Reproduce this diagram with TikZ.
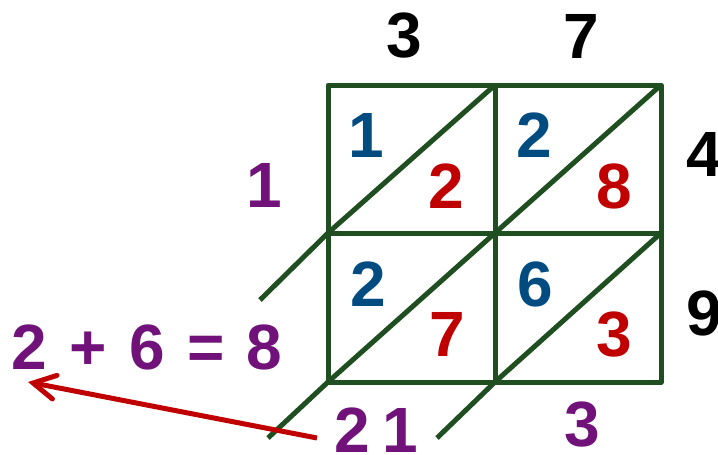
\documentclass[tikz,border=0pt]{standalone}
\usepackage{fontspec}
\setmainfont{Liberation Sans}
\usetikzlibrary{arrows.meta}
\definecolor{grid}{RGB}{31,78,32}
\definecolor{dblue}{RGB}{0,76,128}
\definecolor{dred}{RGB}{192,0,0}
\definecolor{dpurple}{RGB}{112,18,122}
\tikzset{
  gline/.style={draw=grid, line width=5pt, line join=round},
  digit/.style={inner sep=0pt, font=\fontsize{64}{64}\selectfont\bfseries},
  blk/.style={digit, text=black},
  blu/.style={digit, text=dblue},
  rd/.style={digit, text=dred},
  pur/.style={digit, text=dpurple},
}
\begin{document}
\begin{tikzpicture}[x=1pt,y=-1pt]
\useasboundingbox (0,0) rectangle (718,455);
% grid corners
\coordinate (a00) at (328,85);  \coordinate (a01) at (495,85);  \coordinate (a02) at (661,85);
\coordinate (a10) at (328,233); \coordinate (a11) at (495,233); \coordinate (a12) at (661,233);
\coordinate (a20) at (328,382); \coordinate (a21) at (495,382); \coordinate (a22) at (661,382);
\coordinate (e1) at (260,300);
\coordinate (e2) at (268,438);
\coordinate (e3) at (437,438);
% grid
\draw[gline] (a00) rectangle (a22);
\draw[gline] (a01) -- (a21);
\draw[gline] (a10) -- (a12);
% diagonals
\draw[gline] (e1) -- (a10) -- (a01);
\draw[gline] (a11) -- (a02);
\draw[gline] (e2) -- (a20) -- (a11);
\draw[gline] (e3) -- (a21) -- (a12);
% factors
\node[blk] (t3) at (404,36) {3};
\node[blk] (t7) at (581,36) {7};
\node[blk] (r4) at (704,154) {4};
\node[blk] (r9) at (704,313) {9};
% cells
\node[blu] (c1) at (366,135) {1};
\node[rd]  (c2) at (446,186) {2};
\node[blu] (c3) at (534,135) {2};
\node[rd]  (c4) at (614,186) {8};
\node[blu] (c5) at (368,284) {2};
\node[rd]  (c6) at (447,334) {7};
\node[blu] (c7) at (535,284) {6};
\node[rd]  (c8) at (614,335) {3};
% result digits
\node[pur] (p1) at (264,185) {1};
\node[pur] (sum) at (147,347) {2\hspace{0.35em}+\hspace{0.35em}6\hspace{0.35em}=\hspace{0.35em}8};
\node[pur] (p21) at (376,430) {2\hspace{0.2em}1};
\node[pur] (p3) at (582,425) {3};
% arrow
\coordinate (atail) at (317,438);
\coordinate (ahead) at (28,382);
\draw[draw=dred, line width=5pt, -{Straight Barb[length=22pt,width=24pt,line cap=round]}] (atail) -- (ahead);
\end{tikzpicture}
\end{document}
